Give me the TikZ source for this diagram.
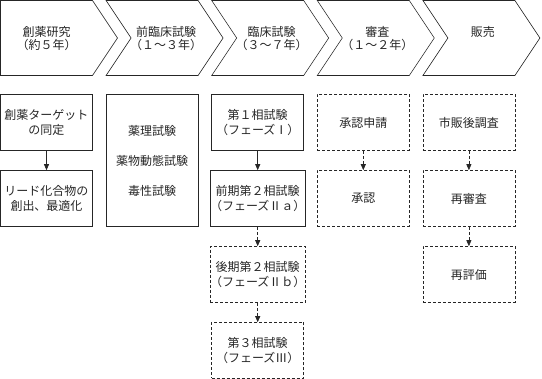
\documentclass[tikz,border=0pt]{standalone}
\usepackage{fontspec}
\setmainfont{Noto Sans CJK JP}
\usetikzlibrary{arrows.meta}

\definecolor{linegray}{gray}{0.15}
\tikzset{
    stagebox/.style={draw=linegray, minimum width=92pt, minimum height=56pt, inner sep=0pt, align=center},
    planbox/.style={stagebox, dash pattern=on 3pt off 2pt},
    flow/.style={draw=linegray, -{Triangle[length=6pt, width=5pt]}},
    planflow/.style={flow, dash pattern=on 3pt off 2pt},
    stagelabel/.style={anchor=north, inner sep=0pt, align=center, font=\fontsize{12}{13}\selectfont}
}

\begin{document}
\begin{tikzpicture}[x=1pt, y=-1pt, line width=0.6pt, font=\fontsize{12}{15}\selectfont, text=black!85]
    \useasboundingbox (0,0) rectangle (542,379);

    % stages along the top
    \draw[linegray] (0.5,0.5) -- (92.5,0.5) -- (117.5,38) -- (92.5,75.5) -- (0.5,75.5) -- cycle;
    \foreach \x in {106.1, 211.7, 317.3, 422.9}
        \draw[linegray] (\x,0.5) -- ++(92,0) -- ++(25,37.5) -- ++(-25,37.5) -- ++(-92,0) -- ++(25,-37.5) -- cycle;

    \node[stagelabel] (discovery) at (46.5,26) {創薬研究\\（約５年）};
    \node[stagelabel] (preclinical) at (166.1,26) {前臨床試験\\（１～３年）};
    \node[stagelabel] (clinical) at (271.7,26) {臨床試験\\（３～７年）};
    \node[stagelabel] (review) at (377.3,26) {審査\\（１～２年）};
    \node[stagelabel] (market) at (482.9,26) {販売};

    % research
    \node[stagebox] (target) at (46.5,122.5) {創薬ターゲット\\の同定};
    \node[stagebox] (lead) at (46.5,198.5) {リード化合物の\\創出、最適化};
    \draw[flow] (target) -- (lead);

    % preclinical
    \node[stagebox, minimum height=132pt] (tests) at (152.1,160.5) {薬理試験\\[15pt]薬物動態試験\\[15pt]毒性試験};

    % clinical phases
    \node[stagebox] (phase1) at (257.7,122.5) {第１相試験\\（フェーズⅠ）};
    \node[stagebox] (phase2a) at (257.7,198.5) {前期第２相試験\\（フェーズⅡａ）};
    \node[planbox] (phase2b) at (257.7,274.5) {後期第２相試験\\（フェーズⅡｂ）};
    \node[planbox] (phase3) at (257.7,350.5) {第３相試験\\（フェーズⅢ）};
    \draw[flow] (phase1) -- (phase2a);
    \draw[planflow] (phase2a) -- (phase2b);
    \draw[planflow] (phase2b) -- (phase3);

    % review
    \node[planbox] (apply) at (363.3,122.5) {承認申請};
    \node[planbox] (approve) at (363.3,198.5) {承認};
    \draw[planflow] (apply) -- (approve);

    % after launch
    \node[planbox] (survey) at (468.9,122.5) {市販後調査};
    \node[planbox] (reexam) at (468.9,198.5) {再審査};
    \node[planbox] (reeval) at (468.9,274.5) {再評価};
    \draw[planflow] (survey) -- (reexam);
    \draw[planflow] (reexam) -- (reeval);
\end{tikzpicture}
\end{document}
